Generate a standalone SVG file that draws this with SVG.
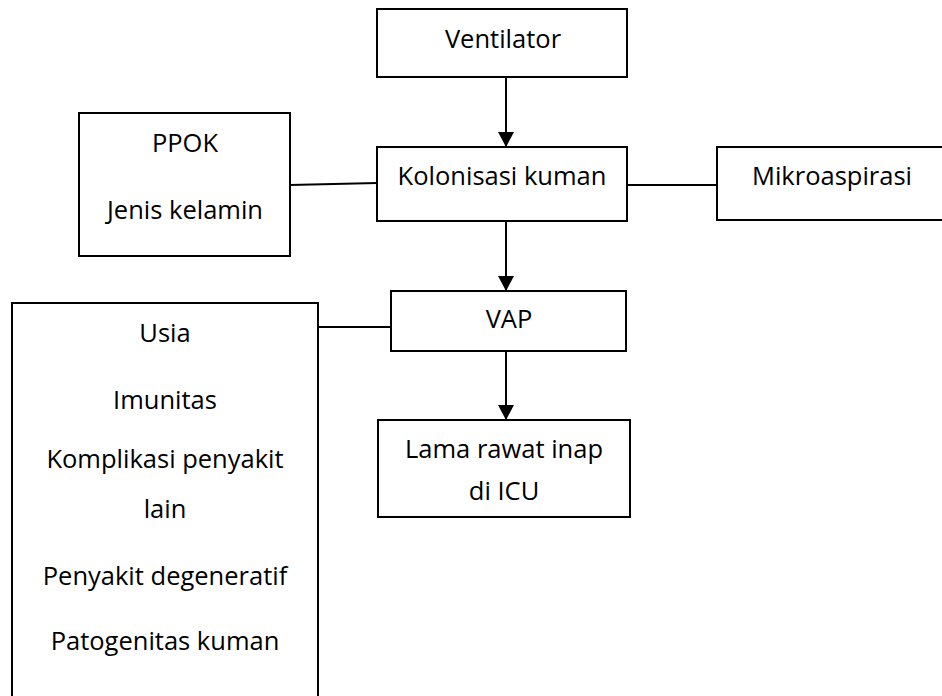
<svg xmlns="http://www.w3.org/2000/svg" width="942" height="696" viewBox="0 0 942 696">
<style>
.box{fill:#fff;stroke:#000;stroke-width:2}
.t{font-family:"Open Sans","Liberation Sans",sans-serif;font-size:25.5px;fill:#000;text-anchor:middle}
.c{stroke:#000;stroke-width:2;fill:none}
</style>
<defs>
<marker id="ah" markerWidth="15" markerHeight="16" refX="15" refY="8" orient="auto" markerUnits="userSpaceOnUse">
<path d="M0,0 L15,8 L0,16 Z" fill="#000"/>
</marker>
</defs>
<rect width="942" height="696" fill="#fff"/>
<g id="connectors">
<line class="c" x1="506" y1="77" x2="506" y2="147" marker-end="url(#ah)"/>
<line class="c" x1="506" y1="221" x2="506" y2="291" marker-end="url(#ah)"/>
<line class="c" x1="506" y1="351" x2="506" y2="420" marker-end="url(#ah)"/>
<line class="c" x1="290" y1="185" x2="377" y2="183"/>
<line class="c" x1="627" y1="185" x2="717" y2="185"/>
<line class="c" x1="318" y1="327" x2="391" y2="327"/>
</g>
<g id="ventilator">
<rect class="box" x="377" y="9" width="250" height="68"/>
<text class="t" x="503" y="48">Ventilator</text>
</g>
<g id="kolonisasi">
<rect class="box" x="377" y="147" width="250" height="74"/>
<text class="t" x="502" y="185">Kolonisasi kuman</text>
</g>
<g id="ppok">
<rect class="box" x="79" y="113" width="211" height="143"/>
<text class="t" x="185" y="152">PPOK</text>
<text class="t" x="185" y="219">Jenis kelamin</text>
</g>
<g id="mikroaspirasi">
<rect class="box" x="717" y="147" width="240" height="73"/>
<text class="t" x="832" y="185">Mikroaspirasi</text>
</g>
<g id="vap">
<rect class="box" x="391" y="291" width="235" height="60"/>
<text class="t" x="509" y="328">VAP</text>
</g>
<g id="lama">
<rect class="box" x="378" y="420" width="252" height="97"/>
<text class="t" x="504" y="458">Lama rawat inap</text>
<text class="t" x="504" y="500">di ICU</text>
</g>
<g id="faktor">
<rect class="box" x="12" y="303" width="306" height="410"/>
<text class="t" x="165" y="342">Usia</text>
<text class="t" x="165" y="409">Imunitas</text>
<text class="t" x="165" y="468">Komplikasi penyakit</text>
<text class="t" x="165" y="518">lain</text>
<text class="t" x="165" y="585">Penyakit degeneratif</text>
<text class="t" x="165" y="650">Patogenitas kuman</text>
</g>
</svg>
